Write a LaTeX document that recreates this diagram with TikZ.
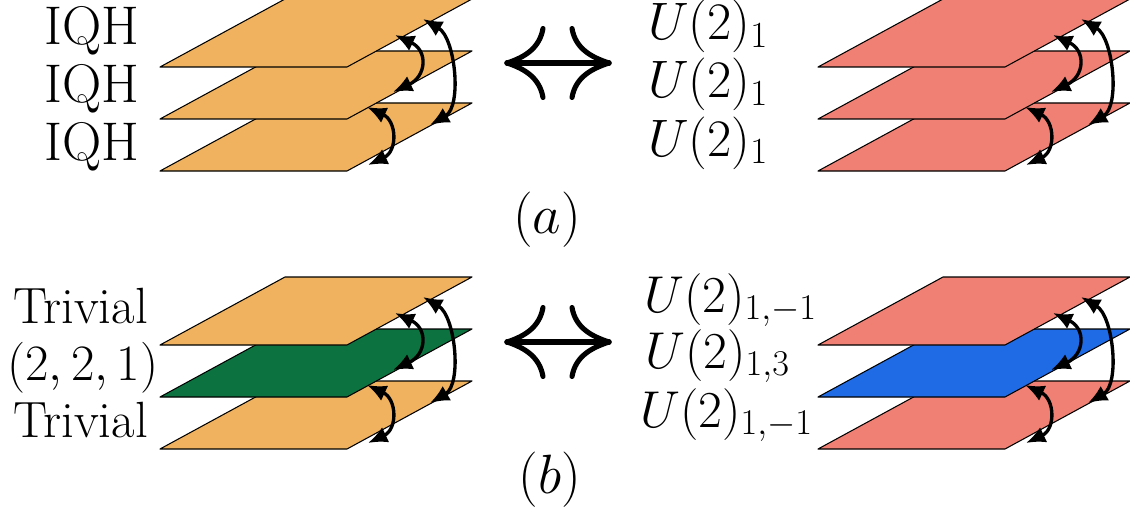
\RequirePackage{fix-cm}
\documentclass[tikz,border=0pt]{standalone}
\usepackage{amsmath,amssymb}
\usepackage{tikz}
\usetikzlibrary{arrows.meta, positioning, calc}

\tikzset{
  plate/.style={draw=black, line width=0.6pt, line join=round},
  hop/.style={line width=1.9pt, {Latex[length=11pt,width=9.5pt]}-{Latex[length=11pt,width=9.5pt]}},
  dualline/.style={line width=2.9pt, line cap=round},
  lbl/.style={anchor=base west, inner sep=0pt},
}

% three stacked layers with the interlayer arrows
% #1 origin, #2 top fill, #3 middle fill, #4 bottom fill, #5 name
\newcommand{\layerstack}[5]{%
  \begin{scope}[shift={#1}]
    \filldraw[plate, fill=#4] (0,-2.08) -- ++(3.74,0) -- ++(2.5,1.36) -- ++(-3.74,0) -- cycle;
    \filldraw[plate, fill=#3] (0,-1.04) -- ++(3.74,0) -- ++(2.5,1.36) -- ++(-3.74,0) -- cycle;
    \filldraw[plate, fill=#2] (0,0) -- ++(3.74,0) -- ++(2.5,1.36) -- ++(-3.74,0) -- cycle;
    \coordinate (#5-a1) at (4.70,0.64);
    \coordinate (#5-a2) at (4.66,-0.50);
    \coordinate (#5-b1) at (5.26,0.96);
    \coordinate (#5-b2) at (5.40,-1.16);
    \coordinate (#5-c1) at (4.14,-0.80);
    \coordinate (#5-c2) at (4.16,-1.96);
    \draw[hop] (#5-a1) to[out=-25, in=25, looseness=1.65] (#5-a2);
    \draw[hop] (#5-b1) to[out=-30, in=30, looseness=0.9] (#5-b2);
    \draw[hop] (#5-c1) to[out=-25, in=25, looseness=1.45] (#5-c2);
  \end{scope}}

% the big two-way arrow, #1 height, #2 name
\newcommand{\dualarrow}[2]{%
  \coordinate (#2-l) at (10.14,#1);
  \coordinate (#2-r) at (12.18,#1);
  \coordinate (#2-lu) at (10.86,{#1+0.69});
  \coordinate (#2-ld) at (10.86,{#1-0.69});
  \coordinate (#2-ru) at (11.44,{#1+0.69});
  \coordinate (#2-rd) at (11.44,{#1-0.69});
  \draw[dualline] (#2-l) -- (#2-r);
  \draw[dualline] (#2-l) to[out=18, in=-100] (#2-lu);
  \draw[dualline] (#2-l) to[out=-18, in=100] (#2-ld);
  \draw[dualline] (#2-r) to[out=162, in=-80] (#2-ru);
  \draw[dualline] (#2-r) to[out=198, in=80] (#2-rd);}

\begin{document}
\begin{tikzpicture}

% ── Colour palette ──────────────────────────────────────────
\definecolor{iqh}{RGB}{240,178,94}
\definecolor{utwo}{RGB}{240,128,116}
\definecolor{triv}{RGB}{12,115,64}
\definecolor{uthree}{RGB}{31,107,230}

\useasboundingbox (0,0) rectangle (22.6,-10.28);

% ── (a) IQH layers and U(2)_1 layers ────────────────────────
\layerstack{(3.2,-1.34)}{iqh}{iqh}{iqh}{ql}
\layerstack{(16.36,-1.34)}{utwo}{utwo}{utwo}{qr}
\dualarrow{-1.26}{ea}

\node[lbl, font=\fontsize{31}{37}\selectfont] (iqh1) at (0.88,-0.90) {IQH};
\node[lbl, font=\fontsize{31}{37}\selectfont] (iqh2) at (0.88,-2.06) {IQH};
\node[lbl, font=\fontsize{31}{37}\selectfont] (iqh3) at (0.88,-3.20) {IQH};

\node[lbl, font=\fontsize{30}{36}\selectfont] (ua1) at (12.96,-0.80) {$U(2)_1$};
\node[lbl, font=\fontsize{30}{36}\selectfont] (ua2) at (12.96,-1.96) {$U(2)_1$};
\node[lbl, font=\fontsize{30}{36}\selectfont] (ua3) at (12.96,-3.12) {$U(2)_1$};

\node[anchor=base, inner sep=0pt, font=\fontsize{31.5}{37}\selectfont] (capa) at (10.94,-4.66) {$(a)$};

% ── (b) trivial / (2,2,1) layers and U(2) layers ────────────
\layerstack{(3.2,-6.9)}{iqh}{triv}{iqh}{tl}
\layerstack{(16.36,-6.9)}{utwo}{uthree}{utwo}{tr}
\dualarrow{-6.84}{eb}

\node[lbl, font=\fontsize{29}{35}\selectfont] (tv1) at (0.26,-6.46) {Trivial};
\node[lbl, font=\fontsize{29}{35}\selectfont] (mid) at (0.14,-7.60) {$(2,2,1)$};
\node[lbl, font=\fontsize{29}{35}\selectfont] (tv2) at (0.26,-8.74) {Trivial};

\node[lbl, font=\fontsize{29.5}{35}\selectfont] (ub1) at (12.88,-6.24) {$U(2)_{1,-1}$};
\node[lbl, font=\fontsize{29.5}{35}\selectfont] (ub2) at (12.90,-7.36) {$U(2)_{1,3}$};
\node[lbl, font=\fontsize{29.5}{35}\selectfont] (ub3) at (12.80,-8.54) {$U(2)_{1,-1}$};

\node[anchor=base, inner sep=0pt, font=\fontsize{31.5}{37}\selectfont] (capb) at (11.0,-9.86) {$(b)$};

\end{tikzpicture}
\end{document}
